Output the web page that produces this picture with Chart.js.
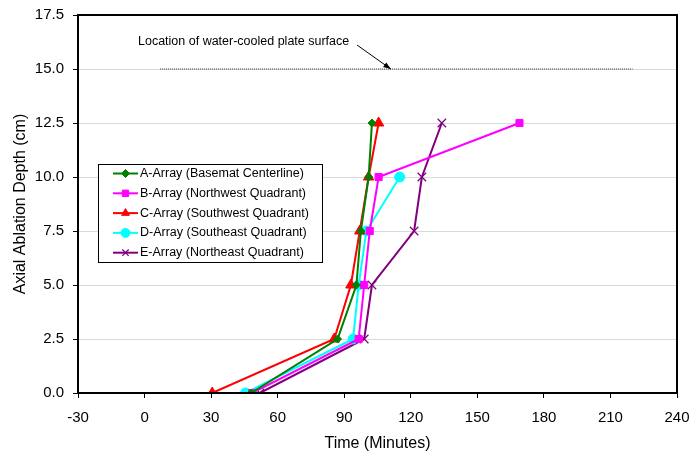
<!DOCTYPE html>
<html>
<head>
<meta charset="utf-8">
<script src="https://cdn.jsdelivr.net/npm/chart.js@4.4.1/dist/chart.umd.min.js"></script>
<style>
  html, body { margin: 0; padding: 0; background: #fff; }
  #wrap { width: 696px; height: 453px; }
</style>
</head>
<body>
<div id="wrap"><canvas id="myChart" width="696" height="453"></canvas></div>
<script>
// depth levels (cm)
var depths = [0, 2.5, 5, 7.5, 10, 12.5];

// time (minutes) at which each depth was reached
var arrayA = [48, 87, 95.5, 97.5, 101, 102.5];
var arrayB = [48.5, 96.5, 99, 101.5, 105.5, 169];
var arrayC = [30.5, 85.5, 93, 97, 101, 105.5];
var arrayD = [45.5, 94, 96.5, 100, 115];
var arrayE = [52, 99, 102.5, 121.5, 125, 134];

var seriesNames = [
    'A-Array (Basemat Centerline)',
    'B-Array (Northwest Quadrant)',
    'C-Array (Southwest Quadrant)',
    'D-Array (Southeast Quadrant)',
    'E-Array (Northeast Quadrant)'
];

// water-cooled plate surface line
var plateTimes = [7, 220];
var plateDepth = 15;
var arrowTipTime = 111;

var FONT = '"Liberation Sans", Arial, sans-serif';

function toPoints(times) {
    return times.map(function(t, i) { return { x: t, y: depths[i] }; });
}

function makeSet(label, times, color, style, radius) {
    return {
        label: label,
        data: toPoints(times),
        borderColor: color,
        backgroundColor: style === 'crossRot' ? 'transparent' : color,
        pointBorderColor: color,
        pointBackgroundColor: color,
        pointStyle: style,
        pointRadius: radius,
        pointBorderWidth: 1,
        borderWidth: 2,
        showLine: true,
        fill: false
    };
}

var sets = [
    makeSet(seriesNames[0], arrayA, '#008000', 'rectRot', 4),
    makeSet(seriesNames[1], arrayB, '#ff00ff', 'rect', 5),
    makeSet(seriesNames[2], arrayC, '#ff0000', 'triangle', 6),
    makeSet(seriesNames[3], arrayD, '#00ffff', 'circle', 5),
    makeSet(seriesNames[4], arrayE, '#800080', 'crossRot', 6)
];
sets[4].pointBorderWidth = 1.2;

sets.push({
    label: 'plate',
    data: plateTimes.map(function(t) { return { x: t, y: plateDepth }; }),
    borderColor: '#333',
    borderWidth: 1,
    borderDash: [1, 1],
    pointRadius: 0,
    showLine: true,
    fill: false
});

var frameAndNotes = {
    id: 'frameAndNotes',
    afterDatasetsDraw: function(chart) {
        var c = chart.ctx;
        var a = chart.chartArea;
        var xs = chart.scales.x, ys = chart.scales.y;
        c.save();
        c.strokeStyle = '#000';
        c.lineWidth = 2;
        c.strokeRect(a.left, a.top, a.right - a.left, a.bottom - a.top);

        // note and arrow
        c.font = '12.5px ' + FONT;
        c.fillStyle = '#000';
        c.textBaseline = 'middle';
        c.fillText('Location of water-cooled plate surface', 138, 42);
        var ex = xs.getPixelForValue(arrowTipTime), ey = ys.getPixelForValue(plateDepth);
        var sx = 357, sy = 45;
        c.lineWidth = 1;
        c.beginPath();
        c.moveTo(sx, sy);
        c.lineTo(ex, ey);
        c.stroke();
        var ang = Math.atan2(ey - sy, ex - sx);
        c.beginPath();
        c.moveTo(ex, ey);
        c.lineTo(ex - 8 * Math.cos(ang - 0.35), ey - 8 * Math.sin(ang - 0.35));
        c.lineTo(ex - 8 * Math.cos(ang + 0.35), ey - 8 * Math.sin(ang + 0.35));
        c.closePath();
        c.fill();

        // legend box
        var bx = 98, by = 164, bw = 224, bh = 98;
        c.fillStyle = '#fff';
        c.fillRect(bx, by, bw, bh);
        c.strokeStyle = '#000';
        c.lineWidth = 1;
        c.strokeRect(bx + 0.5, by + 0.5, bw, bh);
        c.font = '12.5px ' + FONT;
        for (var i = 0; i < 5; i++) {
            var ds = chart.data.datasets[i];
            var ry = 173.5 + i * 19.8;
            c.strokeStyle = ds.borderColor;
            c.lineWidth = 2;
            c.beginPath();
            c.moveTo(113, ry);
            c.lineTo(138, ry);
            c.stroke();
            c.fillStyle = ds.pointBackgroundColor;
            c.strokeStyle = ds.pointBorderColor;
            c.lineWidth = ds.pointBorderWidth;
            Chart.helpers.drawPoint(c, {
                pointStyle: ds.pointStyle,
                radius: Math.min(ds.pointRadius, 4.5),
                borderWidth: ds.pointBorderWidth,
                rotation: 0
            }, 125.5, ry);
            c.fillStyle = '#000';
            c.fillText(ds.label, 140, ry);
        }
        c.restore();
    }
};

var ctx = document.getElementById('myChart').getContext('2d');
new Chart(ctx, {
    type: 'scatter',
    data: { datasets: sets },
    options: {
        responsive: false,
        animation: false,
        layout: { padding: { left: 0, right: 19, top: 15, bottom: 0 } },
        plugins: {
            legend: { display: false },
            tooltip: { enabled: false }
        },
        scales: {
            x: {
                type: 'linear',
                min: -30,
                max: 240,
                afterFit: function(s) {
                    s.height = 60;
                    s.paddingLeft = 0;
                    s.paddingRight = 0;
                },
                ticks: {
                    stepSize: 30,
                    color: '#000',
                    padding: 11,
                    font: { family: FONT, size: 15 },
                    maxRotation: 0
                },
                grid: { drawOnChartArea: false, drawTicks: true, tickLength: 5, tickColor: '#000' },
                border: { color: '#000', width: 2 },
                title: {
                    display: true,
                    text: 'Time (Minutes)',
                    color: '#000',
                    padding: { top: 0, bottom: 0 },
                    font: { family: FONT, size: 16 }
                }
            },
            y: {
                min: 0,
                max: 17.5,
                afterFit: function(s) {
                    s.width = 78;
                    s.paddingTop = 0;
                    s.paddingBottom = 0;
                },
                ticks: {
                    stepSize: 2.5,
                    color: '#000',
                    padding: 9,
                    font: { family: FONT, size: 15 },
                    callback: function(v) { return v.toFixed(1); }
                },
                grid: { color: '#d9d9d9', lineWidth: 1, drawTicks: true, tickLength: 5, tickColor: '#000' },
                border: { color: '#000', width: 2 },
                title: {
                    display: true,
                    text: 'Axial Ablation Depth (cm)',
                    color: '#000',
                    padding: { top: 11, bottom: 0 },
                    font: { family: FONT, size: 16 }
                }
            }
        }
    },
    plugins: [frameAndNotes]
});
</script>
</body>
</html>
